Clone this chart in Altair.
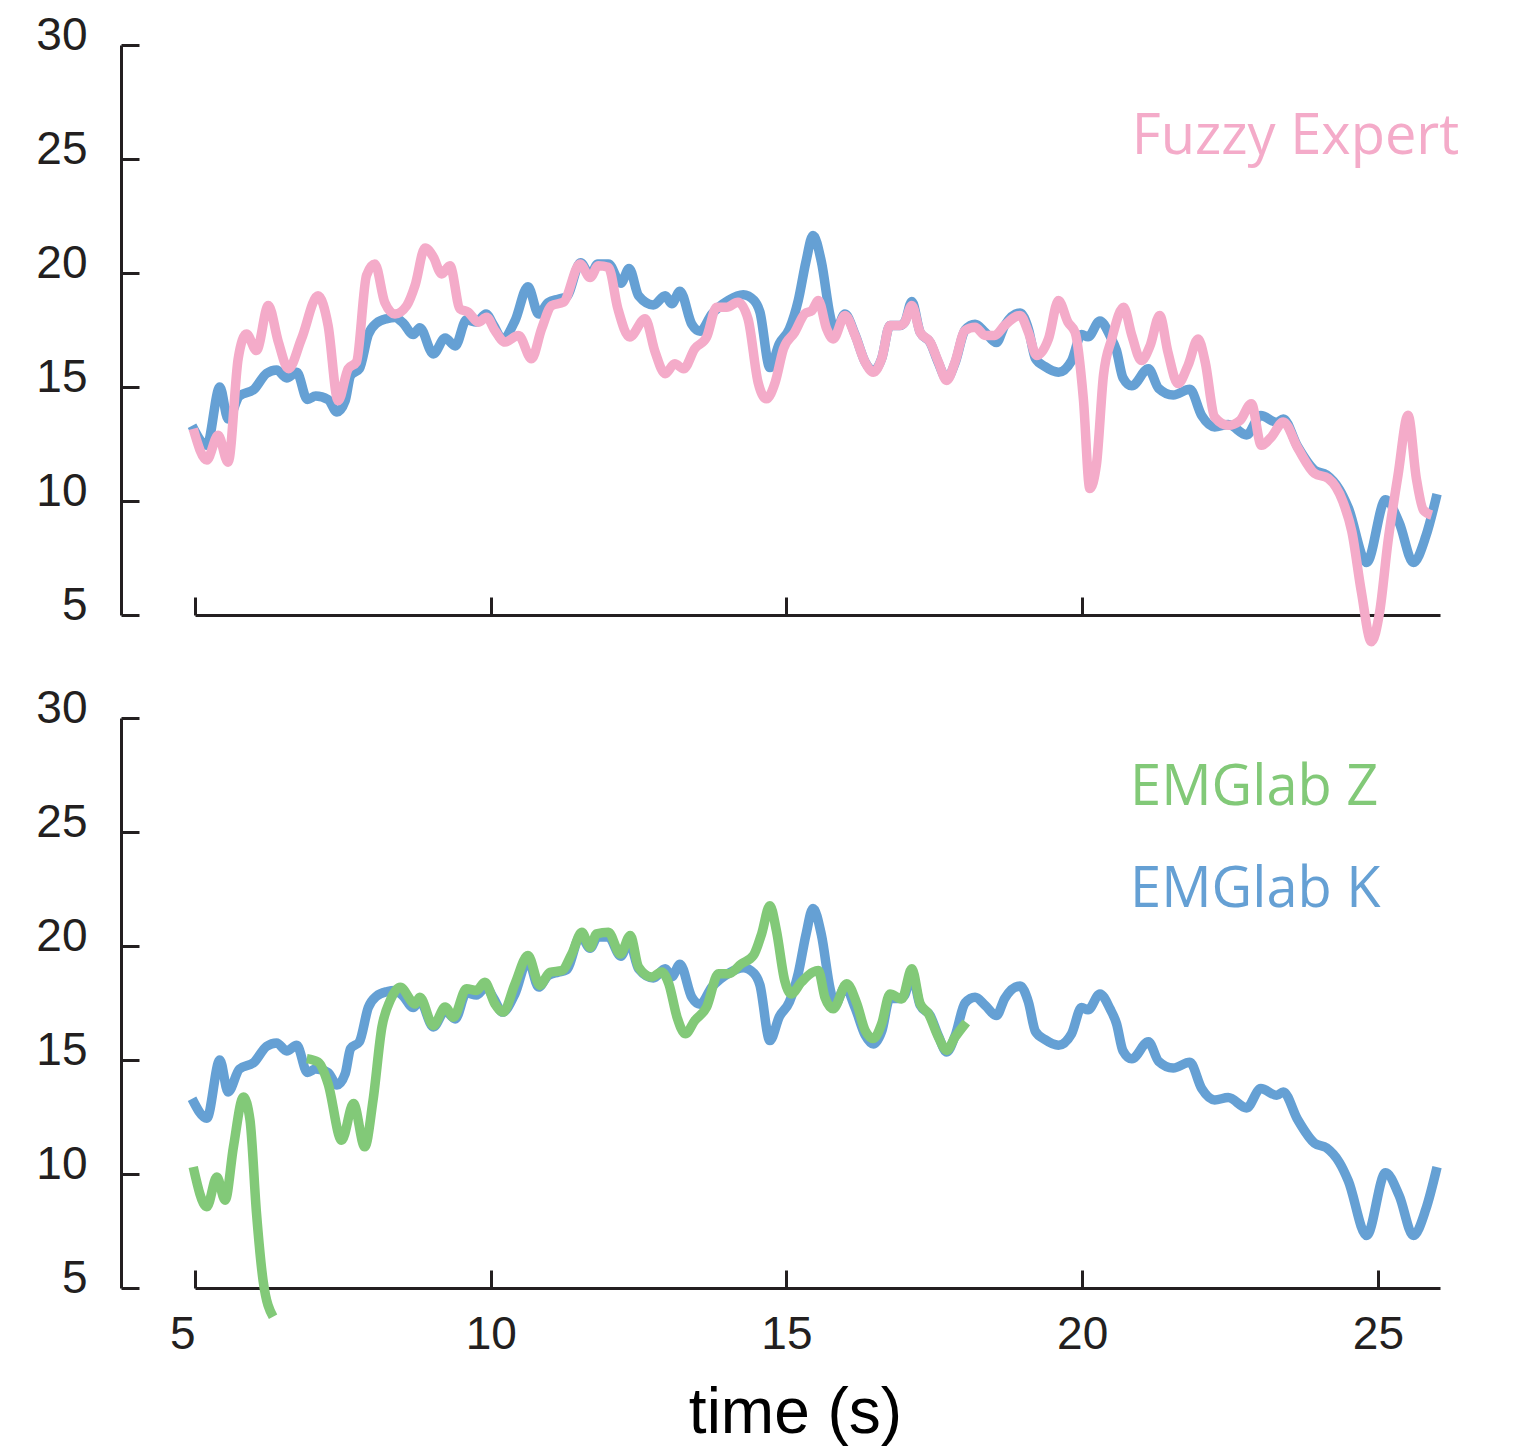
import altair as alt
import pandas as pd

# ---------------- data ----------------
blue_t = [4.95, 5.20, 5.42, 5.56, 5.75, 6.00, 6.21, 6.38, 6.55, 6.72, 6.90, 7.04, 7.25, 7.40, 7.54, 7.63, 7.78, 7.93, 8.07, 8.25,
          8.38, 8.52, 8.69, 8.80, 9.03, 9.23, 9.40, 9.59, 9.76, 9.92, 10.05, 10.20, 10.41, 10.63, 10.81, 10.97, 11.14, 11.28, 11.52, 11.68,
          11.81, 11.99, 12.20, 12.34, 12.50, 12.75, 12.95, 13.06, 13.20, 13.40, 13.54, 13.74, 14.02, 14.27, 14.45, 14.55, 14.72, 14.88, 15.05, 15.20,
          15.33, 15.45, 15.59, 15.74, 15.82, 15.99, 16.16, 16.33, 16.47, 16.61, 16.75, 16.92, 17.00, 17.12, 17.26, 17.43, 17.57, 17.71, 17.85, 18.02,
          18.19, 18.36, 18.55, 18.69, 18.95, 19.09, 19.21, 19.37, 19.60, 19.82, 19.99, 20.10, 20.30, 20.47, 20.58, 20.69, 20.84, 21.12, 21.29, 21.54,
          21.82, 22.02, 22.24, 22.47, 22.78, 23.02, 23.29, 23.40, 23.64, 23.93, 24.13, 24.35, 24.50, 24.81, 25.13, 25.36, 25.60, 25.81, 26.00]
blue_v = [13.3, 12.45, 15.0, 13.6, 14.6, 14.9, 15.6, 15.75, 15.4, 15.65, 14.45, 14.6, 14.45, 13.9, 14.4, 15.5, 15.8, 17.3, 17.8, 18.0,
          18.05, 17.8, 17.3, 17.6, 16.45, 17.15, 16.8, 17.95, 17.85, 18.2, 17.7, 17.1, 17.9, 19.4, 18.2, 18.7, 18.85, 18.95, 20.45, 19.9,
          20.4, 20.4, 19.55, 20.2, 19.0, 18.6, 19.0, 18.65, 19.2, 17.75, 17.45, 18.2, 18.8, 19.05, 18.8, 18.3, 15.85, 16.9, 17.55, 18.8,
          20.5, 21.65, 20.5, 18.1, 17.4, 18.2, 17.3, 16.1, 15.7, 16.25, 17.7, 17.7, 17.85, 18.75, 17.4, 16.95, 16.05, 15.35, 16.05, 17.5,
          17.75, 17.4, 16.95, 17.7, 18.25, 17.55, 16.25, 15.9, 15.65, 16.15, 17.3, 17.2, 17.9, 17.25, 16.6, 15.4, 15.05, 15.8, 14.95, 14.65,
          14.9, 13.75, 13.25, 13.35, 12.9, 13.75, 13.45, 13.6, 12.4, 11.35, 11.15, 10.5, 9.7, 7.3, 10.05, 9.05, 7.3, 8.45, 10.3]

pink_t = [4.97, 5.20, 5.39, 5.56, 5.73, 5.87, 6.04, 6.24, 6.41, 6.58, 6.80, 7.08, 7.25, 7.42, 7.59, 7.73, 7.90, 8.04, 8.21, 8.38,
          8.58, 8.72, 8.89, 9.03, 9.17, 9.31, 9.48, 9.62, 9.79, 9.93, 10.07, 10.24, 10.47, 10.69, 10.86, 11.03, 11.23, 11.51, 11.68, 11.82,
          11.99, 12.15, 12.35, 12.61, 12.78, 12.95, 13.11, 13.26, 13.45, 13.65, 13.82, 13.99, 14.18, 14.35, 14.52, 14.66, 14.81, 14.95, 15.14, 15.31,
          15.43, 15.54, 15.68, 15.79, 15.99, 16.16, 16.33, 16.47, 16.61, 16.75, 16.92, 17.00, 17.12, 17.26, 17.43, 17.57, 17.71, 17.85, 18.02, 18.19,
          18.36, 18.52, 18.69, 18.95, 19.09, 19.23, 19.43, 19.60, 19.76, 19.88, 20.02, 20.13, 20.24, 20.36, 20.50, 20.70, 20.84, 21.00, 21.15, 21.31,
          21.45, 21.62, 21.79, 21.96, 22.08, 22.24, 22.47, 22.67, 22.86, 23.03, 23.20, 23.40, 23.65, 23.93, 24.16, 24.41, 24.56, 24.72, 24.89, 25.03,
          25.17, 25.34, 25.51, 25.65, 25.77, 25.91]
pink_v = [13.17, 11.8, 12.88, 11.7, 16.24, 17.33, 16.6, 18.57, 16.97, 15.8, 17.11, 19.0, 17.7, 14.4, 15.8, 16.1, 19.9, 20.4, 18.7, 18.2,
          18.57, 19.45, 21.1, 20.7, 19.96, 20.32, 18.43, 18.28, 17.84, 18.06, 17.48, 16.97, 17.26, 16.24, 17.55, 18.57, 18.72, 20.4, 19.8, 20.32,
          20.25, 18.43, 17.19, 17.99, 16.53, 15.58, 16.02, 15.8, 16.68, 17.19, 18.5, 18.5, 18.72, 17.99, 15.21, 14.48, 15.21, 16.68, 17.4, 18.21,
          18.35, 18.79, 17.55, 17.11, 18.14, 17.26, 16.09, 15.65, 16.24, 17.7, 17.7, 17.84, 18.57, 17.4, 16.97, 16.09, 15.29, 16.09, 17.48, 17.62,
          17.26, 17.26, 17.7, 18.14, 17.4, 16.38, 17.11, 18.79, 17.84, 17.4, 14.48, 10.55, 11.57, 15.51, 17.11, 18.5, 17.26, 16.16, 16.82, 18.14,
          16.53, 15.15, 15.95, 17.11, 16.09, 13.68, 13.32, 13.54, 14.27, 12.44, 12.81, 13.47, 12.3, 11.21, 10.99, 9.96, 8.65, 6.02, 3.83, 5.14,
          8.21, 11.13, 13.76, 10.99, 9.6, 9.38]

green1_t = [4.97, 5.20, 5.37, 5.51, 5.65, 5.82, 5.93, 6.04, 6.15, 6.32]
green1_v = [10.31, 8.56, 9.87, 8.85, 11.19, 13.38, 12.36, 8.27, 5.35, 3.74]

green2_t = [6.89, 7.08, 7.25, 7.48, 7.68, 7.87, 8.01, 8.16, 8.30, 8.47, 8.72, 8.80, 9.03, 9.23, 9.37, 9.59, 9.76, 9.90, 10.07, 10.21,
            10.41, 10.63, 10.83, 11.00, 11.20, 11.37, 11.54, 11.68, 11.79, 11.99, 12.19, 12.36, 12.50, 12.72, 12.89, 13.01, 13.15, 13.29, 13.45, 13.65,
            13.85, 14.02, 14.24, 14.44, 14.58, 14.72, 14.83, 14.97, 15.08, 15.25, 15.45, 15.54, 15.65, 15.79, 16.02, 16.19, 16.33, 16.47, 16.61, 16.75,
            16.95, 17.12, 17.26, 17.40, 17.57, 17.71, 17.85, 18.04]
green2_v = [15.06, 14.91, 13.96, 11.48, 13.09, 11.19, 13.23, 16.44, 17.61, 18.19, 17.46, 17.75, 16.51, 17.32, 16.88, 18.12, 18.05, 18.41, 17.46, 17.10,
            18.34, 19.58, 18.27, 18.85, 18.92, 19.65, 20.60, 19.94, 20.53, 20.60, 19.65, 20.46, 19.07, 18.64, 18.86, 18.35, 16.88, 16.15, 16.73, 17.32,
            18.78, 18.78, 19.22, 19.58, 20.53, 21.77, 20.68, 18.49, 17.90, 18.41, 18.86, 18.92, 17.75, 17.25, 18.34, 17.47, 16.30, 15.94, 16.59, 17.90,
            17.68, 19.00, 17.47, 17.03, 16.00, 15.42, 16.00, 16.65]

x_ticks = [5, 10, 15, 20, 25]
y_ticks = [5, 10, 15, 20, 25, 30]
x_domain = [5, 26.05]
y_domain = [5, 30]

top_labels = ["Fuzzy Expert"]
top_label_t = [20.84]
top_label_v = [25.23]
bottom_labels = ["EMGlab Z", "EMGlab K"]
bottom_label_t = [20.81, 20.81]
bottom_label_v = [26.2, 21.72]

# ---------------- styling ----------------
BLUE = "#65a0d4"
PINK = "#f4abc9"
GREEN = "#82c978"
AXC = "#231f20"
W, H = 1245, 570
LW = 9.5
TICK_FONT = "Liberation Sans"
LABEL_FONT = "Open Sans"

blue_df = pd.DataFrame({"t": blue_t, "v": blue_v})
pink_df = pd.DataFrame({"t": pink_t, "v": pink_v})
green_df = pd.concat([
    pd.DataFrame({"t": green1_t, "v": green1_v, "seg": "a"}),
    pd.DataFrame({"t": green2_t, "v": green2_v, "seg": "b"}),
], ignore_index=True)

xs = alt.Scale(domain=x_domain, nice=False, zero=False)
ys = alt.Scale(domain=y_domain, nice=False, zero=False)


def y_tick_axis():
    return alt.Axis(orient="left", values=y_ticks, offset=56, domain=False, tickSize=18,
                    tickWidth=3, tickColor=AXC, labelFont=TICK_FONT, labelFontSize=46,
                    labelColor=AXC, labelPadding=34, labelOffset=-10, grid=False, title=None)


def y_line_axis():
    return alt.Axis(orient="left", offset=74, domain=True, domainWidth=3, domainColor=AXC,
                    ticks=False, labels=False, grid=False, title=None)


def x_tick_axis(with_labels):
    kw = dict(orient="bottom", values=x_ticks, offset=-18, domain=False, tickSize=18,
              tickWidth=3, tickColor=AXC, grid=False, labels=with_labels)
    if with_labels:
        kw.update(labelFont=TICK_FONT, labelFontSize=46, labelColor=AXC, labelPadding=24,
                  labelFlush=False,
                  labelAlign={"condition": {"test": "datum.value == 5", "value": "right"},
                              "value": "center"},
                  title="time (s)", titleFont=TICK_FONT, titleFontSize=64, titleFontWeight="normal",
                  titleColor="#000000", titleX=600, titleY=162, titleAlign="center",
                  titleBaseline="alphabetic", titleAnchor="start")
    else:
        kw.update(title=None)
    return alt.Axis(**kw)


def x_line_axis():
    return alt.Axis(orient="bottom", offset=0, domain=True, domainWidth=3, domainColor=AXC,
                    ticks=False, labels=False, grid=False, title=None)


def line(df, color, xaxis, yaxis, detail=None):
    enc = dict(x=alt.X("t:Q", scale=xs, axis=xaxis), y=alt.Y("v:Q", scale=ys, axis=yaxis))
    if detail:
        enc["detail"] = alt.Detail(detail)
    return alt.Chart(df).mark_line(color=color, strokeWidth=LW, interpolate="monotone",
                                   clip=False, strokeJoin="round").encode(**enc)


def labels(names, ts, vs, colors):
    df = pd.DataFrame({"label": names, "t": ts, "v": vs, "c": colors})
    return alt.Chart(df).mark_text(font=LABEL_FONT, fontSize=56, align="left",
                                   baseline="alphabetic").encode(
        x=alt.X("t:Q", scale=xs, axis=None),
        y=alt.Y("v:Q", scale=ys, axis=None),
        text="label:N",
        color=alt.Color("c:N", scale=None),
    )


top = alt.layer(
    line(blue_df, BLUE, x_tick_axis(False), y_tick_axis()),
    line(pink_df, PINK, x_line_axis(), y_line_axis()),
    labels(top_labels, top_label_t, top_label_v, [PINK]),
).resolve_axis(x="independent", y="independent").properties(width=W, height=H)

bottom = alt.layer(
    line(blue_df, BLUE, x_tick_axis(True), y_tick_axis()),
    line(green_df, GREEN, x_line_axis(), y_line_axis(), detail="seg:N"),
    labels(bottom_labels, bottom_label_t, bottom_label_v, [GREEN, BLUE]),
).resolve_axis(x="independent", y="independent").properties(width=W, height=H)

chart = alt.vconcat(top, bottom, spacing=103, bounds="flush").properties(
    padding={"left": 27, "top": 4, "right": 5, "bottom": 5},
    background="white",
).configure_view(stroke="transparent", strokeWidth=0)

chart.save("out.html", embed_options={"renderer": "svg", "actions": False})
